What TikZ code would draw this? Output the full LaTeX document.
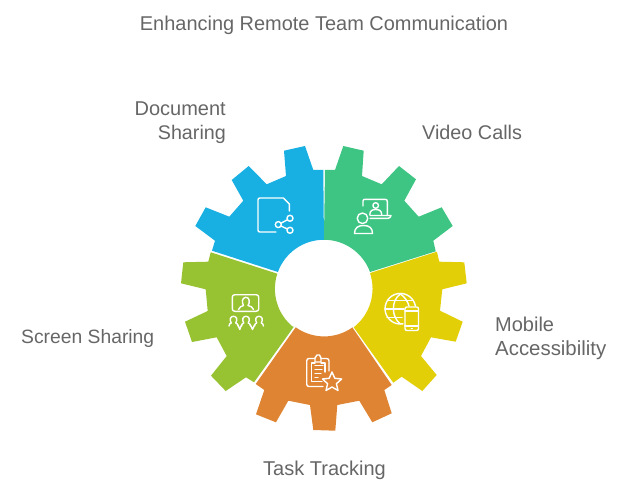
\documentclass[tikz,border=0pt]{standalone}
\usepackage{fontspec}
\setmainfont{Liberation Sans}
\definecolor{gearblue}{HTML}{18B0E3}
\definecolor{geargreen}{HTML}{3EC583}
\definecolor{gearyellow}{HTML}{E3CF08}
\definecolor{gearorange}{HTML}{DF8432}
\definecolor{gearlime}{HTML}{97C232}
\definecolor{labelgray}{HTML}{666666}
\tikzset{
  glyph/.style={draw=white,line width=1.4pt,line join=round,line cap=round},
  label text/.style={text=labelgray,inner sep=0pt,font=\fontsize{#1}{24}\selectfont},
  label text/.default=20,
}
\begin{document}
\begin{tikzpicture}[x=1pt,y=-1pt]
\useasboundingbox (0,0) rectangle (624,492);

% Gear segments
\fill[gearblue] (323.3,170) -- (313.3,170) -- (305,146) -- (284,150.7) -- (286,176) -- (266.7,184.3) -- (248.7,166) -- (231.7,180) -- (243.3,200.7) -- (229.3,216.7) -- (205.7,207.3) -- (195.3,226) -- (215,240.7) -- (212,250.7) -- (277.9,272) arc[start angle=160,end angle=90,radius=49pt] -- cycle;
\fill[geargreen] (325,170) -- (335,170) -- (343.3,146) -- (363.7,150.7) -- (362,176) -- (381.7,184.3) -- (399,166) -- (416,179.3) -- (404.3,200.7) -- (418.7,216.7) -- (441.7,207.3) -- (452.7,226) -- (433.3,240.7) -- (435.7,251.3) -- (370,272) arc[start angle=20,end angle=90,radius=49pt] -- cycle;
\fill[gearyellow] (371,272.7) -- (436.9,251.7) -- (439.3,261.7) -- (464.3,262.3) -- (466.7,283.3) -- (442.3,289.3) -- (440,310.7) -- (462.7,321.7) -- (455.7,341.7) -- (431,337.3) -- (421,356) -- (436.7,375) -- (422.3,391) -- (401.7,376.7) -- (393.3,382.7) -- (353.7,327.3) arc[start angle=-52,end angle=18,radius=49pt] -- cycle;
\fill[gearorange] (352.3,327.3) -- (391.7,385) -- (384.3,390) -- (391.7,413.3) -- (372.3,422.3) -- (359.3,400.7) -- (337.3,405) -- (335.3,430.7) -- (313.3,430) -- (310,405) -- (288.3,400.7) -- (276,422.3) -- (256,414.3) -- (264.3,390) -- (255.7,384) -- (295.7,327.3) arc[start angle=234.5,end angle=305.5,radius=49pt] -- cycle;
\fill[gearlime] (294,326.5) -- (254,382.3) -- (246,377.3) -- (225.7,391) -- (211,375.7) -- (226.7,356) -- (216.7,337.3) -- (192,342) -- (185,321.7) -- (207.7,311) -- (205.7,289.3) -- (181,283.3) -- (183.3,262.3) -- (208.3,261.7) -- (210.7,252.3) -- (277.3,273.7) arc[start angle=162,end angle=231,radius=49pt] -- cycle;

% Document icon
\draw[glyph] (276,232) -- (260,232) .. controls (258.6,232) and (258,231.4) .. (258,230) -- (258,200) .. controls (258,198.6) and (258.6,198) .. (260,198) -- (283.5,198) -- (289.3,204) -- (289.3,211);
\draw[glyph] (290,218.3) circle[radius=3pt] (278.3,224.6) circle[radius=3pt] (290,230.3) circle[radius=3pt];
\draw[glyph] (281,223.2) -- (287.3,219.8) (281,226) -- (287.3,229);

% Video call icon
\draw[glyph] (363,206) -- (363,201) .. controls (363,199.8) and (363.8,199.3) .. (365,199.3) -- (385,199.3) .. controls (386.6,199.3) and (387.3,200) .. (387.3,201.5) -- (387.3,215.5);
\draw[glyph] (370,215.5) -- (391,215.5) .. controls (390.5,217.5) and (389.5,218.3) .. (388,218.3) -- (370,218.3);
\draw[glyph] (375.7,205.5) circle[radius=2.8pt];
\draw[glyph] (369.8,214.5) .. controls (370,210.5) and (372.5,209.5) .. (375.7,209.5) .. controls (379,209.5) and (381.5,210.5) .. (381.7,214.5);
\draw[glyph] (362.5,218.3) circle[radius=5.3pt];
\draw[glyph] (354.5,233.5) .. controls (354.5,228) and (358,225.5) .. (363.5,225.5) .. controls (369.5,225.5) and (372.5,228) .. (372.5,233.5) -- cycle;

% Globe and phone icon
\draw[glyph] (403,323.8) arc[start angle=-80,end angle=-350,radius=15.3pt];
\draw[glyph] (400.5,294) .. controls (391,300) and (391,317) .. (400.5,324);
\draw[glyph] (400.5,294) .. controls (405,297) and (408,302) .. (409,306);
\draw[glyph] (388,300.5) -- (413,300.5) (385,309) -- (404,309) (387,317.5) -- (402,317.5);
\draw[glyph] (407,307) -- (416.5,307) .. controls (417.8,307) and (418.5,307.7) .. (418.5,309) -- (418.5,328.5) .. controls (418.5,329.8) and (417.8,330.5) .. (416.5,330.5) -- (407,330.5) .. controls (405.7,330.5) and (405,329.8) .. (405,328.5) -- (405,309) .. controls (405,307.7) and (405.7,307) .. (407,307) -- cycle;
\draw[glyph] (405,311) -- (418.5,311) (405,326) -- (418.5,326) (411.3,328.3) -- (412.2,328.3);

% Clipboard and star icon
\draw[glyph] (315,358.5) -- (309,358.5) .. controls (307.5,358.5) and (306.7,359.3) .. (306.7,361) -- (306.7,384) .. controls (306.7,385.7) and (307.5,386.5) .. (309,386.5) -- (323,386.5);
\draw[glyph] (329,371) -- (329,361) .. controls (329,359.3) and (328.2,358.5) .. (326.5,358.5) -- (321,358.5);
\draw[glyph] (315,362) -- (315,358) -- (317,355) -- (319.5,355) -- (321,358) -- (321,362) -- cycle;
\draw[glyph] (315,363) -- (311.5,363) -- (311.5,381.5) -- (322,381.5) (321,363) -- (325,363) -- (325,372);
\draw[glyph] (315,365.5) -- (323,365.5) (315,369.5) -- (322,369.5) (315,373.5) -- (321,373.5) (315,377.5) -- (318,377.5);
\draw[glyph,fill=gearorange] (332,372) -- (334.8,378.3) -- (341.7,379) -- (336.4,383.7) -- (338,390.5) -- (332,387) -- (326,390.5) -- (327.6,383.7) -- (322.5,379) -- (329.2,378.3) -- cycle;

% Screen sharing icon
\draw[glyph,rounded corners=2.5pt] (232.3,294.7) rectangle (258.7,311.3);
\draw[glyph] (238.5,309.5) .. controls (239,307) and (242,306) .. (243.5,305.5) .. controls (242,303) and (241.5,298) .. (245.5,297.3) .. controls (250,296.8) and (250,303) .. (248,305.5) .. controls (250,306) and (253,307) .. (253.5,309.5);
\foreach \px in {233.5,246,259} {
  \draw[glyph] (\px-4.5,326) .. controls (\px-4.5,323.5) and (\px-3,323.5) .. (\px-2.2,323) .. controls (\px-4.5,319.5) and (\px-3,316.3) .. (\px,316.3) .. controls (\px+3,316.3) and (\px+4.5,319.5) .. (\px+2.2,323) .. controls (\px+3,323.5) and (\px+4.5,323.5) .. (\px+4.5,326);
}
\draw[glyph] (238,325) -- (239.8,329.5) -- (241.5,325) (250.5,325) -- (252.5,329.5) -- (254.5,325);

% Labels
\node[label text=19.95,anchor=base] (title) at (324,31) {Enhancing Remote Team Communication};
\node[label text=20,anchor=base east] (doc1) at (226,115.7) {Document};
\node[label text=19.7,anchor=base east] (doc2) at (226,139.7) {Sharing};
\node[label text=19.8,anchor=base west] (video) at (422,139.7) {Video Calls};
\node[label text=20,anchor=base west] (mob1) at (495,331.7) {Mobile};
\node[label text=20.4,anchor=base west] (mob2) at (495,355.7) {Accessibility};
\node[label text=19.3,anchor=base west] (screen) at (21,343.7) {Screen Sharing};
\node[label text=20,anchor=base west] (task) at (263,475.7) {Task Tracking};
\end{tikzpicture}
\end{document}
